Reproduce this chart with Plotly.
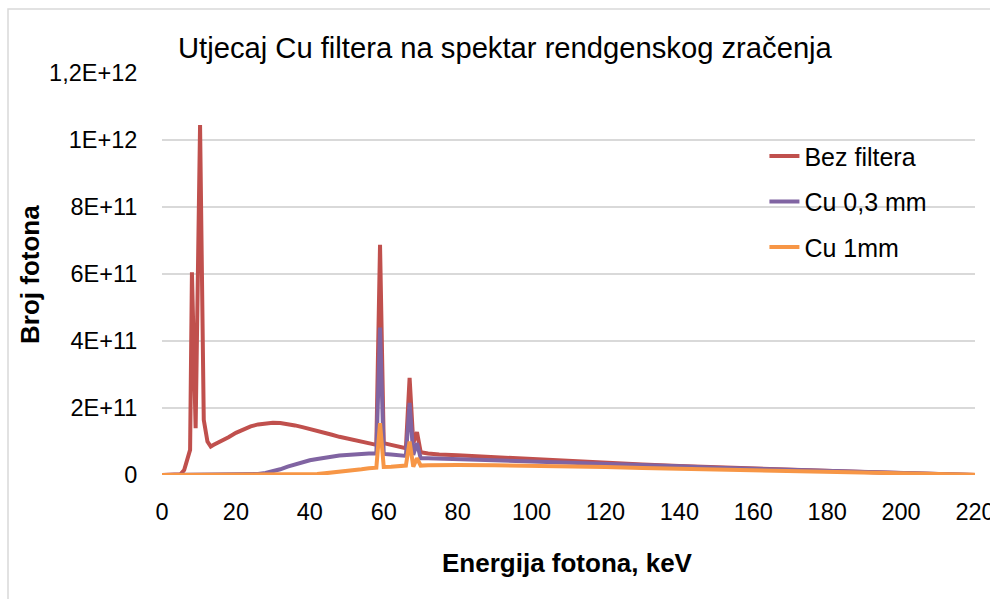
import plotly.graph_objects as go

energy_kev = [0, 2, 4, 5, 6, 7, 7.6, 8.1, 9.1, 10.3, 11.3, 12.3, 13.2,
              14, 16, 18, 20, 22, 24, 26, 28, 30, 32, 34, 36, 38, 40, 42, 44, 46, 48, 50, 52, 54, 56,
              57, 58, 59, 60,
              62, 64, 66, 67, 68, 69, 70,
              72, 75, 80, 90, 100, 110, 120, 130, 140, 150, 160, 170, 180, 190, 200, 210, 220]

bez_filtera = [0, 0, 0, 0.02e11, 0.15e11, 0.5e11, 0.75e11, 6.05e11, 1.4e11, 10.45e11, 1.65e11, 1.0e11, 0.85e11,
               0.9e11, 1.0e11, 1.13e11, 1.26e11, 1.37e11, 1.45e11, 1.51e11, 1.55e11, 1.56e11, 1.55e11, 1.52e11,
               1.48e11, 1.43e11, 1.38e11, 1.32e11, 1.26e11, 1.2e11, 1.14e11, 1.09e11, 1.04e11, 0.99e11, 0.94e11,
               0.92e11, 0.9e11, 6.87e11, 0.95e11,
               0.9e11, 0.85e11, 0.8e11, 2.9e11, 0.95e11, 1.28e11, 0.68e11,
               0.64e11, 0.61e11, 0.59e11, 0.53e11, 0.47e11, 0.41e11, 0.36e11, 0.31e11, 0.27e11, 0.23e11,
               0.19e11, 0.16e11, 0.12e11, 0.09e11, 0.06e11, 0.03e11, 0.0]

cu_03mm = [0, 0, 0, 0, 0, 0, 0, 0, 0, 0, 0, 0, 0,
           0, 0, 0, 0, 0.005e11, 0.015e11, 0.03e11, 0.06e11, 0.1e11, 0.17e11, 0.25e11, 0.32e11, 0.39e11, 0.44e11,
           0.48e11, 0.52e11, 0.55e11, 0.58e11, 0.6e11, 0.62e11, 0.63e11, 0.64e11,
           0.64e11, 0.64e11, 4.4e11, 0.63e11,
           0.61e11, 0.59e11, 0.57e11, 2.15e11, 0.6e11, 0.95e11, 0.5e11,
           0.5e11, 0.49e11, 0.48e11, 0.45e11, 0.42e11, 0.38e11, 0.34e11, 0.3e11, 0.26e11, 0.22e11,
           0.19e11, 0.15e11, 0.12e11, 0.09e11, 0.06e11, 0.03e11, 0.0]

cu_1mm = [0, 0, 0, 0, 0, 0, 0, 0, 0, 0, 0, 0, 0,
          0, 0, 0, 0, 0, 0, 0, 0, 0, 0, 0, 0, 0.005e11, 0.01e11, 0.03e11, 0.05e11, 0.07e11, 0.1e11,
          0.12e11, 0.15e11, 0.17e11, 0.2e11,
          0.21e11, 0.22e11, 1.55e11, 0.24e11,
          0.25e11, 0.26e11, 0.28e11, 1.0e11, 0.25e11, 0.5e11, 0.28e11,
          0.29e11, 0.3e11, 0.3e11, 0.29e11, 0.28e11, 0.26e11, 0.24e11, 0.21e11, 0.19e11, 0.16e11,
          0.14e11, 0.11e11, 0.09e11, 0.07e11, 0.05e11, 0.03e11, 0.005e11]

series_names = ["Bez filtera", "Cu 0,3 mm", "Cu 1mm"]
series_colors = ["#C0504D", "#8064A2", "#F79646"]

y_tickvals = [0, 2e11, 4e11, 6e11, 8e11, 1e12, 1.2e12]
y_ticktext = ["0", "2E+11", "4E+11", "6E+11", "8E+11", "1E+12", "1,2E+12"]
x_tickvals = [0, 20, 40, 60, 80, 100, 120, 140, 160, 180, 200, 220]

FONT = "Liberation Sans, Arial, sans-serif"

W, H = 990, 599
L, T = 162, 73
R = W - 975
B = H - 475
PW, PH = W - L - R, H - T - B

fig = go.Figure()
for name, ys, col in zip(series_names, [bez_filtera, cu_03mm, cu_1mm], series_colors):
    fig.add_trace(go.Scatter(x=energy_kev, y=ys, mode="lines", name=name, legendgroup=name,
                             line=dict(color=col, width=4)))

fig.update_layout(
    width=W, height=H,
    margin=dict(l=L, r=R, t=T, b=B, autoexpand=False),
    paper_bgcolor="white", plot_bgcolor="white",
    font=dict(family=FONT, color="#000000"),
    title=dict(text="Utjecaj Cu filtera na spektar rendgenskog zračenja",
               font=dict(size=29.2, family=FONT, color="#000000"),
               x=(178 - L) / PW, xref="paper", xanchor="left",
               y=1 - 48 / H, yref="container", yanchor="middle"),
    legend=dict(x=0.741, y=0.85, xanchor="left", yanchor="top",
                font=dict(size=25, family=FONT), tracegroupgap=10,
                bgcolor="rgba(0,0,0,0)"),
    showlegend=True,
    xaxis=dict(range=[0, 220], tickvals=x_tickvals, showgrid=False, zeroline=False,
               showline=False, ticks="outside", ticklen=16, tickcolor="rgba(0,0,0,0)",
               tickfont=dict(size=23.5, family=FONT), automargin=False,
               ticklabeloverflow="allow"),
    yaxis=dict(range=[0, 1.2e12], tickvals=y_tickvals, ticktext=y_ticktext,
               showgrid=True, gridcolor="#D9D9D9", gridwidth=1.5, zeroline=False,
               showline=False, ticks="outside", ticklen=19, tickcolor="rgba(0,0,0,0)",
               tickfont=dict(size=23.5, family=FONT), automargin=False),
    annotations=[
        dict(text="<b>Energija fotona, keV</b>", xref="paper", yref="paper",
             x=(567 - L) / PW, y=(475 - 563) / PH, xanchor="center", yanchor="middle",
             showarrow=False, font=dict(size=26, family=FONT, color="#000000")),
        dict(text="<b>Broj fotona</b>", xref="paper", yref="paper", textangle=-90,
             x=(30 - L) / PW, y=(475 - 275) / PH, xanchor="center", yanchor="middle",
             showarrow=False, font=dict(size=26, family=FONT, color="#000000")),
    ],
    shapes=[dict(type="rect", xref="paper", yref="paper",
                 x0=(8 - L) / PW, x1=1.2, y0=-0.6, y1=(475 - 9) / PH,
                 line=dict(color="#D9D9D9", width=1.5), fillcolor="rgba(0,0,0,0)", layer="below")],
)

fig.write_html("out.html", config={"displayModeBar": False},
               post_script="document.body.style.margin='0';document.body.style.overflow='hidden';")
